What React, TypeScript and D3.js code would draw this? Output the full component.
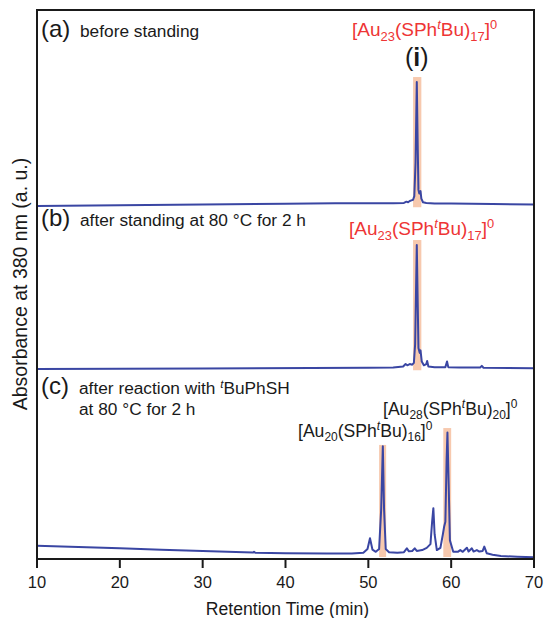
import React from "react";
import * as d3 from "d3";

// ---------- data ----------
const xTicks = [10, 20, 30, 40, 50, 60, 70];

// (a) before standing : [time (min), absorbance (a.u.)]
const traceA: [number, number][] = [
  [10, 0.0], [20, 0.006], [30, 0.012], [40, 0.018], [46, 0.022], [50, 0.022], [53, 0.022],
  [54.3, 0.025], [54.6, 0.035], [54.8, 0.03], [55.0, 0.04], [55.2, 0.045], [55.4, 0.05],
  [55.55, 0.08], [55.7, 0.35], [55.85, 1.0], [55.97, 0.45], [56.05, 0.13], [56.15, 0.1],
  [56.3, 0.12], [56.4, 0.06], [56.6, 0.03], [57.0, 0.025], [58, 0.02], [60, 0.02],
  [65, 0.016], [70, 0.012],
];

// (b) after standing at 80 °C for 2 h
const traceB: [number, number][] = [
  [10, 0.0], [30, 0.005], [50, 0.01], [53, 0.012], [54.2, 0.02], [54.5, 0.04], [54.7, 0.03],
  [55.0, 0.04], [55.3, 0.035], [55.5, 0.05], [55.65, 0.2], [55.85, 1.0], [55.97, 0.5],
  [56.05, 0.17], [56.2, 0.13], [56.3, 0.15], [56.45, 0.06], [56.7, 0.03], [57.0, 0.04],
  [57.1, 0.065], [57.25, 0.02], [58, 0.015], [59.3, 0.015], [59.5, 0.06], [59.65, 0.015],
  [61, 0.012], [63.5, 0.012], [63.7, 0.025], [63.9, 0.01], [70, 0.006],
];

// (c) after reaction with tBuPhSH at 80 °C for 2 h
const traceC: [number, number][] = [
  [10, 0.107], [15, 0.096], [20, 0.086], [25, 0.075], [30, 0.064], [35, 0.055], [36.1, 0.053],
  [36.2, 0.059], [36.35, 0.051], [40, 0.047], [45, 0.045], [48, 0.045], [49.4, 0.05],
  [49.9, 0.08], [50.2, 0.167], [50.5, 0.075], [50.9, 0.058], [51.3, 0.08], [51.55, 0.4],
  [51.75, 0.91], [51.9, 0.4], [52.1, 0.08], [52.5, 0.055], [53.5, 0.05], [54.3, 0.055],
  [54.65, 0.086], [54.9, 0.062], [55.3, 0.065], [55.6, 0.086], [55.85, 0.065], [56.5, 0.072],
  [57.05, 0.09], [57.5, 0.12], [57.7, 0.3], [57.85, 0.41], [58.0, 0.2], [58.27, 0.072],
  [58.7, 0.09], [59.0, 0.2], [59.15, 0.26], [59.3, 0.3], [59.45, 0.8], [59.55, 1.02],
  [59.7, 0.6], [59.85, 0.15], [60.25, 0.059], [60.8, 0.058], [61.1, 0.072], [61.4, 0.058],
  [61.9, 0.091], [62.1, 0.06], [62.5, 0.086], [62.7, 0.06], [63.1, 0.072], [63.4, 0.06],
  [63.8, 0.065], [64.0, 0.1], [64.3, 0.046], [65, 0.035], [66, 0.024], [68, 0.018], [70, 0.014],
];

// highlighted peak windows: [start, end, top]
const bandsA: [number, number, number][] = [[55.4, 56.4, 1.04]];
const bandsB: [number, number, number][] = [[55.4, 56.4, 1.04]];
const bandsC: [number, number, number][] = [[51.3, 52.15, 0.92], [59.05, 60.0, 1.056]];

const FONT = "'Liberation Sans', Arial, Helvetica, sans-serif";

const W = 545;
const H = 618;
const LEFT = 37;
const RIGHT = 534;
const TOP = 10;
const AXIS = 559;
const UNIT = 124;

const LINE = "#3a46a3";
const BAND = "#f7c9ae";
const RED = "#ee3535";
const INK = "#1a1a1a";

function Formula({ x, y, n, m, color, fs }: { x: number; y: number; n: string; m: string; color: string; fs: number }) {
  const ss = fs * 0.68;
  const dn = fs * 0.25;
  const up = fs * 0.38;
  return (
    <text x={x} y={y} fill={color} fontSize={fs} fontFamily={FONT}>
      [Au
      <tspan dy={dn} fontSize={ss}>{n}</tspan>
      <tspan dy={-dn}>(SPh</tspan>
      <tspan dy={-up} fontSize={ss} fontStyle="italic">t</tspan>
      <tspan dy={up}>Bu)</tspan>
      <tspan dy={dn} fontSize={ss}>{m}</tspan>
      <tspan dy={-dn}>]</tspan>
      <tspan dy={-up} fontSize={ss}>0</tspan>
    </text>
  );
}

export default function App() {
  const x = d3.scaleLinear().domain([10, 70]).range([LEFT, RIGHT]);
  const yA = d3.scaleLinear().domain([0, 1]).range([206, 206 - UNIT]);
  const yB = d3.scaleLinear().domain([0, 1]).range([369, 369 - UNIT]);
  const yC = d3.scaleLinear().domain([0, 1]).range([AXIS, AXIS - UNIT]);

  const panels = [
    { data: traceA, y: yA, bands: bandsA, bottom: -0.01 },
    { data: traceB, y: yB, bands: bandsB, bottom: -0.01 },
    { data: traceC, y: yC, bands: bandsC, bottom: 0.016 },
  ];

  const body = 17.3;

  return (
    <svg width={W} height={H} style={{ position: "absolute", left: 0, top: 0, background: "#fff" }}>
      {panels.map((p, i) => (
        <g key={"b" + i}>
          {p.bands.map((b, j) => (
            <rect
              key={j}
              x={x(b[0])}
              width={x(b[1]) - x(b[0])}
              y={p.y(b[2])}
              height={p.y(p.bottom) - p.y(b[2])}
              fill={BAND}
            />
          ))}
        </g>
      ))}
      {panels.map((p, i) => {
        const line = d3
          .line<[number, number]>()
          .x((d) => x(d[0]))
          .y((d) => p.y(d[1]));
        return <path key={"l" + i} d={line(p.data) || ""} fill="none" stroke={LINE} strokeWidth={2} strokeLinejoin="round" />;
      })}

      {/* frame */}
      <path d={`M${LEFT},${AXIS}V${TOP}H${RIGHT}V${AXIS}Z`} fill="none" stroke={INK} strokeWidth={2} />
      {xTicks.map((t) => (
        <g key={t}>
          <line x1={x(t)} x2={x(t)} y1={AXIS} y2={AXIS + 9} stroke={INK} strokeWidth={2} />
          <text x={x(t)} y={AXIS + 29} textAnchor="middle" fontSize={16.5} fontFamily={FONT} fill={INK}>
            {t}
          </text>
        </g>
      ))}
      <text x={(LEFT + RIGHT) / 2 + 2} y={615} textAnchor="middle" fontSize={17.6} fontFamily={FONT} fill={INK}>
        Retention Time (min)
      </text>
      <text
        transform={`translate(27,284) rotate(-90)`}
        textAnchor="middle"
        fontSize={19.5}
        fontFamily={FONT}
        fill={INK}
      >
        Absorbance at 380 nm (a. u.)
      </text>

      {/* panel labels */}
      <text x={41} y={37} fontFamily={FONT} fill={INK} fontSize={24}>(a)</text>
      <text x={80} y={37} fontFamily={FONT} fill={INK} fontSize={body}>before standing</text>
      <text x={41} y={226} fontFamily={FONT} fill={INK} fontSize={24}>(b)</text>
      <text x={80} y={226} fontFamily={FONT} fill={INK} fontSize={body}>after standing at 80 °C for 2 h</text>
      <text x={41} y={394} fontFamily={FONT} fill={INK} fontSize={24}>(c)</text>
      <text x={79} y={394} fontFamily={FONT} fill={INK} fontSize={body}>
        after reaction with{" "}
        <tspan fontSize={11.5} dy={-6} fontStyle="italic">t</tspan>
        <tspan dy={6}>BuPhSH</tspan>
      </text>
      <text x={79} y={415} fontSize={body} fontFamily={FONT} fill={INK}>
        at 80 °C for 2 h
      </text>

      <Formula x={352} y={36} n="23" m="17" color={RED} fs={19} />
      <text x={x(55.85)} y={66} textAnchor="middle" fontSize={25} fontFamily={FONT} fill={INK}>
        (<tspan fontWeight="bold">i</tspan>)
      </text>
      <Formula x={349} y={235} n="23" m="17" color={RED} fs={19} />
      <Formula x={383} y={415} n="28" m="20" color={INK} fs={17.6} />
      <Formula x={298} y={437} n="20" m="16" color={INK} fs={17.6} />
    </svg>
  );
}
